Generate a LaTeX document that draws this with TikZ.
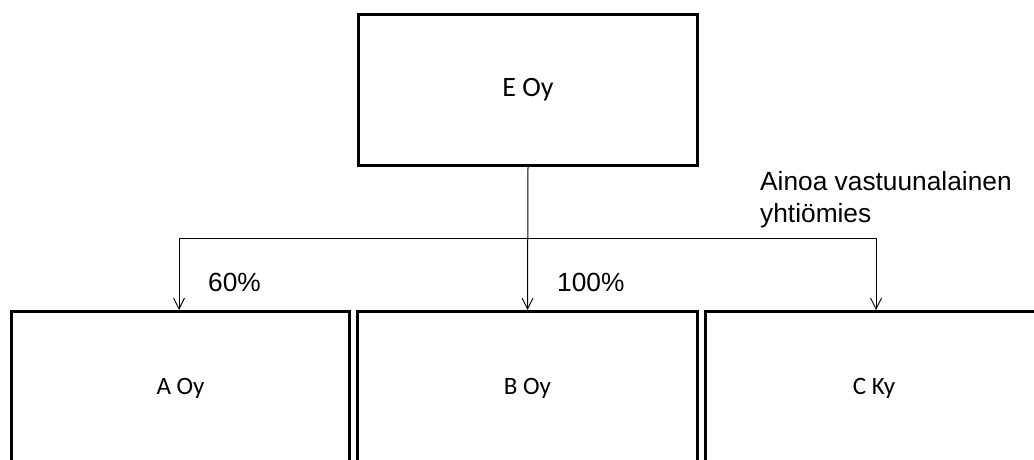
\documentclass[tikz,border=0pt]{standalone}
\usepackage{fontspec}
\setmainfont{Liberation Sans}
\newfontfamily\boxfont{Carlito}
\usetikzlibrary{arrows.meta}

\tikzset{
  company/.style={draw, line width=3pt, minimum width=#1, minimum height=153pt,
    inner sep=0pt, font=\boxfont\fontsize{25}{29}\selectfont},
  link/.style={line width=1pt, -{Straight Barb[length=11pt,width=11pt,line width=0.9pt]}},
  bus/.style={line width=1pt},
  share/.style={font=\fontsize{26.3}{32}\selectfont, inner sep=0pt},
}

\begin{document}
\begin{tikzpicture}[x=1pt,y=-1pt]
  \useasboundingbox (0,0) rectangle (1034,460);
  \clip (0,0) rectangle (1034,460);

  % parent company
  \node[company=339pt, minimum height=151pt, font=\boxfont\fontsize{28}{32}\selectfont]
    (E) at (528,90) {E Oy};

  % subsidiaries (cut off at the lower edge)
  \node[company=338pt] (A) at (180.5,388) {A Oy};
  \node[company=340pt] (B) at (527.5,388) {B Oy};
  \node[company=337pt] (C) at (874,388) {C Ky};

  % ownership lines
  \coordinate (busL) at (179,238);
  \coordinate (busR) at (876,238);
  \draw[bus] (busL) -- (busR);
  \draw[link] (E.south) -- (B.north);
  \draw[link] (busL) -- (busL |- A.north);
  \draw[link] (busR) -- (busR |- C.north);

  % labels
  \node[share, anchor=base west] (pA) at (208,291) {60\%};
  \node[share, anchor=base west] (pB) at (557,291) {100\%};
  \node[share, anchor=north west, align=left] (gp) at (760,171)
    {Ainoa vastuunalainen\\yhtiömies};
\end{tikzpicture}
\end{document}
